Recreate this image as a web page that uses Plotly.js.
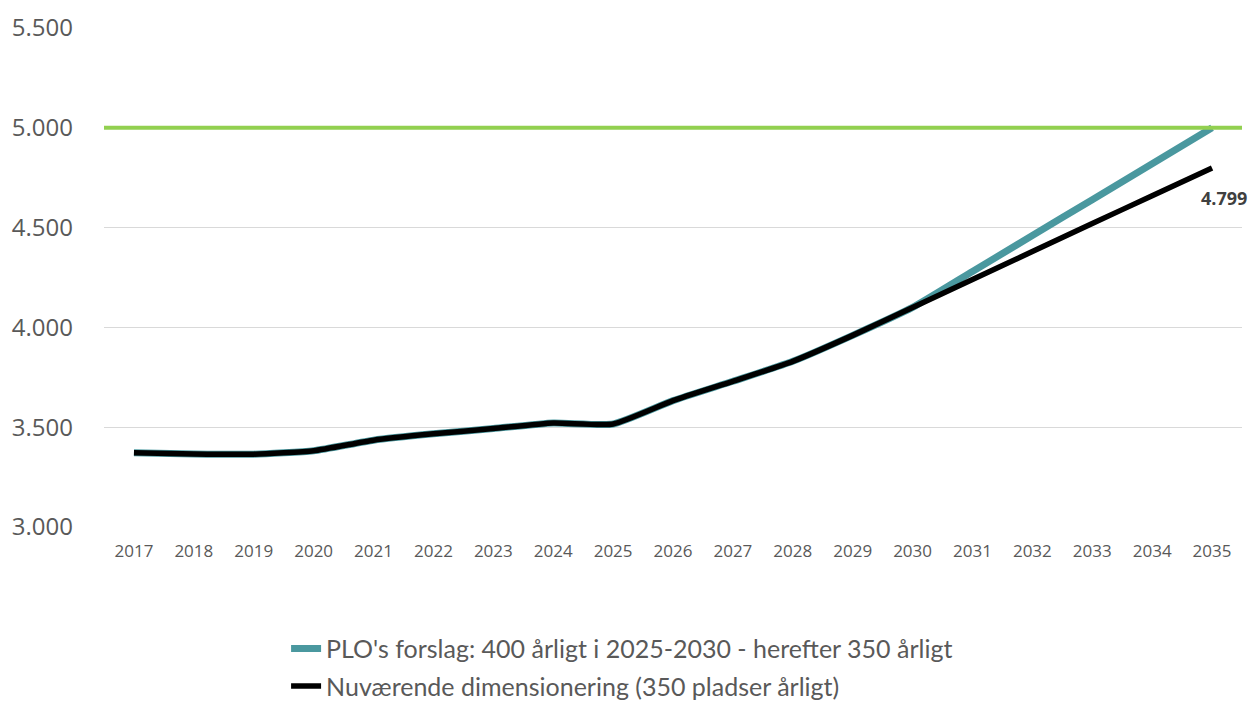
<!DOCTYPE html>
<html>
<head>
<meta charset="utf-8">
<script src="https://cdn.plot.ly/plotly-3.0.1.min.js"></script>
<style>html,body{margin:0;padding:0;background:#fff;}#chart{width:1248px;height:704px;}</style>
</head>
<body>
<div id="chart"></div>
<script>
const years = ['2017','2018','2019','2020','2021','2022','2023','2024','2025','2026','2027','2028','2029','2030','2031','2032','2033','2034','2035'];
const ploForslag = [3372,3366,3365,3382,3435,3467,3493,3521,3516,3633,3730,3830,3960,4100,4280,4460,4640,4820,5000];
const nuvaerende = [3372,3366,3365,3382,3435,3467,3493,3521,3516,3633,3730,3830,3960,4100,4240,4380,4520,4660,4799];
const seriesNames = ["PLO's forslag: 400 årligt i 2025-2030 - herefter 350 årligt", "Nuværende dimensionering (350 pladser årligt)"];
const targetValue = 5000;
const yTicks = [3000,3500,4000,4500,5000,5500];

const traces = [
  {x: years, y: ploForslag, name: seriesNames[0], type: 'scatter', mode: 'lines',
   line: {color: '#4A989F', width: 7, shape: 'spline', smoothing: 0.5}, legendgroup: 'a'},
  {x: years, y: nuvaerende, name: seriesNames[1], type: 'scatter', mode: 'lines',
   line: {color: '#000000', width: 5.5, shape: 'spline', smoothing: 0.5}, legendgroup: 'b'}
];

const last = nuvaerende.length - 1;
const layout = {
  width: 1248, height: 704,
  margin: {l: 104, r: 6, t: 28, b: 177, autoexpand: false},
  paper_bgcolor: '#ffffff', plot_bgcolor: '#ffffff',
  separators: ',.',
  showlegend: true,
  legend: {x: 0.16, xanchor: 'left', y: -0.198, yanchor: 'top', orientation: 'v',
    font: {family: 'Lato, sans-serif', size: 25, color: '#595959'},
    traceorder: 'grouped', tracegroupgap: 2, bgcolor: 'rgba(0,0,0,0)'},
  xaxis: {type: 'category', range: [-0.5, years.length - 0.5], autorange: false,
    showgrid: false, zeroline: false, showline: false, ticks: '',
    tickfont: {family: 'Open Sans, sans-serif', size: 17, color: '#595959'},
    ticklabelstandoff: 12, fixedrange: true},
  yaxis: {range: [3000, 5500], autorange: false, tickvals: yTicks, tickformat: ',.0f', showgrid: true,
    gridcolor: '#D9D9D9', gridwidth: 1.3, zeroline: false, showline: false, ticks: '',
    tickfont: {family: 'Open Sans, sans-serif', size: 24, color: '#595959'},
    ticklabelstandoff: 30, fixedrange: true},
  shapes: [{type: 'line', xref: 'paper', yref: 'y', x0: 0, x1: 1, y0: targetValue, y1: targetValue,
    line: {color: '#92D050', width: 4}, layer: 'above'}],
  annotations: [{x: last, y: nuvaerende[last], xref: 'x', yref: 'y',
    text: '<b>' + nuvaerende[last].toLocaleString('da-DK') + '</b>', showarrow: false,
    xanchor: 'center', yanchor: 'middle', xshift: 12, yshift: -30,
    font: {family: 'Open Sans, sans-serif', size: 18, color: '#404040'}}]
};

Plotly.newPlot('chart', traces, layout, {displayModeBar: false, staticPlot: true});
</script>
</body>
</html>
